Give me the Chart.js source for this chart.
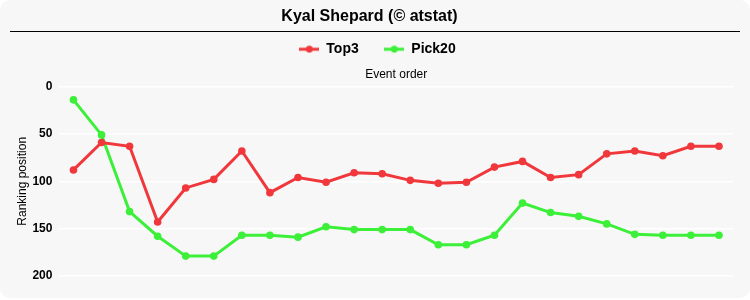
<!DOCTYPE html>
<html><head><meta charset="utf-8">
<script src="https://cdn.jsdelivr.net/npm/chart.js@4/dist/chart.umd.min.js"></script>
<style>
html,body{margin:0;padding:0;background:#fff;}
#wrap{position:absolute;left:0;top:0;width:750px;height:298px;background:#f7f7f7;border-radius:10px;overflow:hidden;}
</style></head>
<body><div id="wrap"><canvas id="c" width="750" height="298"></canvas></div>
<script>
const titleText = 'Kyal Shepard (© atstat)';
const events = ['1','2','3','4','5','6','7','8','9','10','11','12','13','14','15','16','17','18','19','20','21','22','23','24'];
const top3 = [88,59,63,143,107,98,68,112,96,101,91,92,99,102,101,85,79,96,93,71,68,73,63,63];
const pick20 = [14,51,132,158,179,179,157,157,159,148,151,151,151,167,167,157,123,133,137,145,156,157,157,157];
const yTicks = [0,50,100,150,200];
const RED = '#f0383c', GREEN = '#3cef38';
const FONT = "'Liberation Sans',Arial,sans-serif";

function marker(color){
  const c=document.createElement('canvas'); c.width=20; c.height=8;
  const g=c.getContext('2d');
  g.strokeStyle=color; g.lineWidth=3; g.beginPath(); g.moveTo(0,4); g.lineTo(20,4); g.stroke();
  g.fillStyle=color; g.beginPath(); g.arc(10,4,3.4,0,Math.PI*2); g.fill();
  return c;
}
const titleLine={id:'titleLine',
  afterLayout(ch){ if(ch.legend){ ch.legend.left+=8; ch.legend.right+=8; } },
  afterDraw(ch){
    const ctx=ch.ctx; ctx.save(); ctx.strokeStyle='#000'; ctx.lineWidth=1;
    ctx.beginPath(); ctx.moveTo(10,31.5); ctx.lineTo(740,31.5); ctx.stroke(); ctx.restore();
  }};
new Chart(document.getElementById('c'),{
  type:'line',
  data:{labels:events,datasets:[
    {label:'Top3',data:top3,borderColor:RED,backgroundColor:RED,borderWidth:3,pointRadius:3.8,pointBorderWidth:0,pointHoverRadius:4,tension:0},
    {label:'Pick20',data:pick20,borderColor:GREEN,backgroundColor:GREEN,borderWidth:3,pointRadius:3.8,pointBorderWidth:0,pointHoverRadius:4,tension:0}
  ]},
  options:{
    responsive:false,animation:false,
    layout:{padding:{left:6,right:17,bottom:22,top:6}},
    plugins:{
      title:{display:true,text:titleText,color:'#000',font:{family:FONT,size:16,weight:'bold'},padding:{top:1,bottom:6}},
      legend:{display:true,labels:{color:'#000',font:{family:FONT,size:14,weight:'bold'},usePointStyle:true,pointStyleWidth:20,padding:10,
        generateLabels(ch){return ch.data.datasets.map((d,i)=>({text:i===0?d.label+'    ':d.label,pointStyle:marker(d.borderColor),fillStyle:d.borderColor,strokeStyle:d.borderColor,lineWidth:0,datasetIndex:i,hidden:false}));}}},
      tooltip:{enabled:false}
    },
    scales:{
      x:{position:'top',offset:true,grid:{display:false,drawTicks:false},border:{display:false},ticks:{display:false},
         title:{display:true,text:'Event order',color:'#000',font:{family:FONT,size:12},padding:{top:1,bottom:5}}},
      y:{reverse:true,min:0,max:200,border:{display:false},
         grid:{color:'#ffffff',lineWidth:1.5,drawTicks:false},
         afterBuildTicks(ax){ax.ticks=yTicks.map(v=>({value:v}));},
         afterFit(ax){ax.width-=4;},
         ticks:{color:'#000',font:{family:FONT,size:12,weight:'bold'},padding:7},
         title:{display:true,text:'Ranking position',color:'#000',font:{family:FONT,size:12},padding:{top:9,bottom:0}}}
    }
  },
  plugins:[titleLine]
});
</script></body></html>
